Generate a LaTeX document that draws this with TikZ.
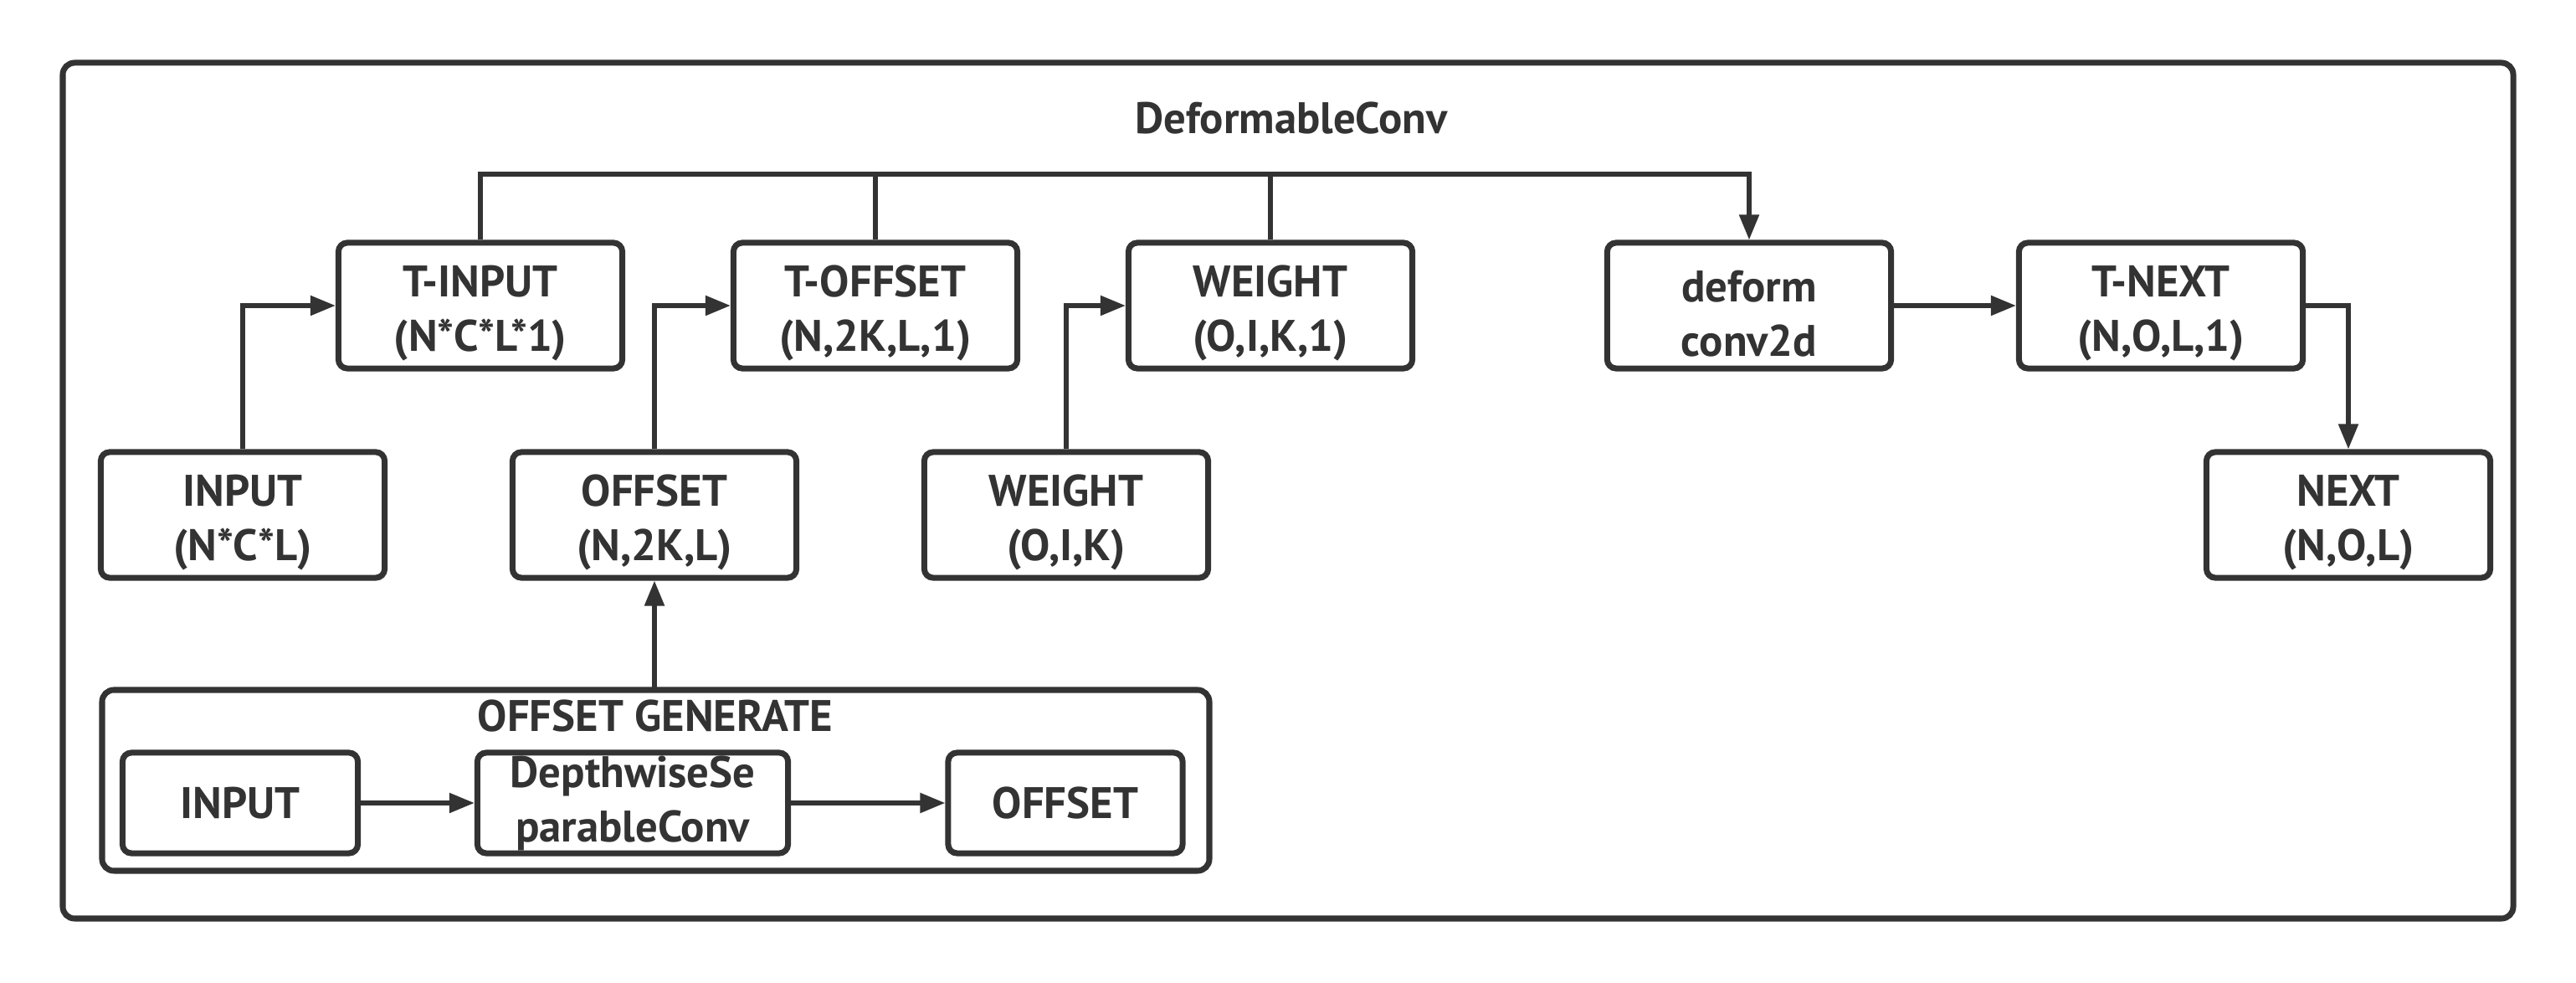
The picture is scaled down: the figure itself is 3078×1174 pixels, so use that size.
\documentclass[tikz,border=0pt]{standalone}
\usepackage{fontspec}
\setmainfont{PT Sans}
\usetikzlibrary{arrows.meta}
\definecolor{ink}{HTML}{333333}
\tikzset{
  px/.style={x=0.01cm,y=-0.01cm},
  blk/.style={draw=ink,line width=2pt,rounded corners=3pt,fill=white,text=ink,
    font=\fontsize{15}{18.5}\selectfont\bfseries,align=center,inner sep=0pt},
  big/.style={blk,minimum width=3.39cm,minimum height=1.5cm,text height=34.5pt},
  small/.style={blk,minimum height=1.2cm},
  frame/.style={draw=ink,line width=2pt,rounded corners=4pt},
  lbl/.style={text=ink,font=\fontsize{15}{18.5}\selectfont\bfseries,inner sep=0pt},
  conn/.style={draw=ink,line width=1.5pt},
  arr/.style={conn,-{Triangle[length=0.3cm,width=0.23cm]}}
}
\begin{document}
\begin{tikzpicture}[px]
\useasboundingbox (0,0) rectangle (3078,1174);
\draw[frame] (75,75) rectangle (3003,1097);
\node[lbl] (title) at (1543,141) {DeformableConv};
% top row
\node[big] (tinput) at (574,365) {T-INPUT\\(N*C*L*1)};
\node[big] (toffset) at (1046,365) {T-OFFSET\\(N,2K,L,1)};
\node[big] (weightA) at (1518,365) {WEIGHT\\(O,I,K,1)};
\node[big] (deform) at (2090,365) {deform\\conv2d};
\node[big] (tnext) at (2582,365) {T-NEXT\\(N,O,L,1)};
% second row
\node[big] (input) at (290,615) {INPUT\\(N*C*L)};
\node[big] (offset) at (782,615) {OFFSET\\(N,2K,L)};
\node[big] (weightB) at (1274,615) {WEIGHT\\(O,I,K)};
\node[big] (next) at (2806,615) {NEXT\\(N,O,L)};
% offset generate group
\draw[frame] (122,824) rectangle (1445,1040);
\coordinate (gtop) at (782,824);
\node[lbl] (glabel) at (783,855) {OFFSET GENERATE};
\node[small,minimum width=2.81cm] (ginput) at (287,959) {INPUT};
\node[small,minimum width=3.71cm] (gdw) at (756,959) {DepthwiseSe\\parableConv};
\node[small,minimum width=2.8cm] (goffset) at (1273,959) {OFFSET};
% connectors
\draw[arr] (input.north) |- (tinput.west);
\draw[arr] (offset.north) |- (toffset.west);
\draw[arr] (weightB.north) |- (weightA.west);
\draw[arr] (gtop) -- (offset.south);
\draw[arr] (ginput) -- (gdw);
\draw[arr] (gdw) -- (goffset);
\draw[arr] (deform) -- (tnext);
\draw[arr] (tnext.east) -| (next.north);
\coordinate (bus) at (0,208);
\draw[arr] (tinput.north) -- (tinput.north |- bus) -| (deform.north);
\draw[conn] (toffset.north) -- (toffset.north |- bus);
\draw[conn] (weightA.north) -- (weightA.north |- bus);
\end{tikzpicture}
\end{document}
